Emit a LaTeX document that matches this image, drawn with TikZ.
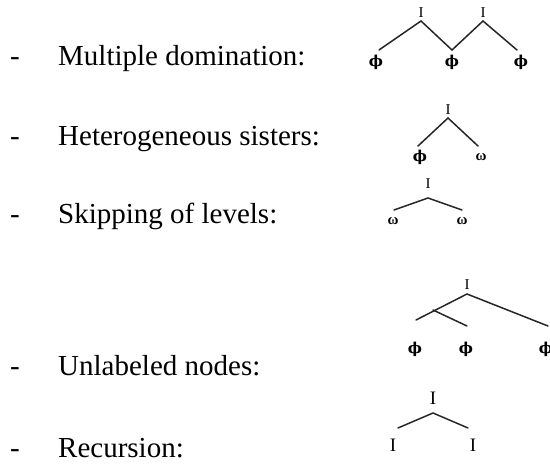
\documentclass[tikz,border=0pt]{standalone}
\usepackage{fontspec}
\setmainfont{Liberation Serif}
\newfontfamily\phifont{DejaVu Serif}
\begin{document}
\begin{tikzpicture}[x=1pt,y=-1pt,
  item/.style={anchor=base west,inner sep=0pt,font=\fontsize{29}{34}\selectfont},
  dashmark/.style={anchor=base,inner sep=0pt,font=\fontsize{29}{34}\selectfont},
  lab/.style={inner sep=0pt,font=\fontsize{15}{17}\selectfont},
  greek/.style={inner sep=0pt,font=\fontsize{15}{17}\selectfont\bfseries},
  labbig/.style={inner sep=0pt,font=\fontsize{19}{22}\selectfont},
  edge/.style={line width=1.5pt,line cap=round,black!85}]
\useasboundingbox (0,0) rectangle (550,465);
% left column
\foreach \n/\y/\t in {a/66/Multiple domination:,b/146/Heterogeneous sisters:,c/224/Skipping of levels:,d/376/Unlabeled nodes:,e/458/Recursion:}{
  \node[dashmark] (dash\n) at (15,\y) {-};
  \node[item] (txt\n) at (58,\y) {\t};
}
% tree 1: multiple domination
\node[lab] (t1I1) at (421,13) {I};
\node[lab] (t1I2) at (483,13) {I};
\coordinate (t1a1) at (421,21);
\coordinate (t1a2) at (483,21);
\coordinate (t1e1) at (379,50);
\coordinate (t1e2) at (452,50);
\coordinate (t1e3) at (517,50);
\node[greek] (t1p1) at (376,62) {\phifont ϕ};
\node[greek] (t1p2) at (452,62) {\phifont ϕ};
\node[greek] (t1p3) at (521,62) {\phifont ϕ};
\draw[edge] (t1e1) -- (t1a1) -- (t1e2) -- (t1a2) -- (t1e3);
% tree 2: heterogeneous sisters
\node[lab] (t2I) at (448,110) {I};
\coordinate (t2a) at (448,118);
\coordinate (t2e1) at (418,146);
\coordinate (t2e2) at (478,146);
\node[greek] (t2p) at (420,157) {\phifont ϕ};
\node[greek] (t2w) at (481,157) {ω};
\draw[edge] (t2e1) -- (t2a) -- (t2e2);
% tree 3: skipping of levels
\node[lab] (t3I) at (428,184) {I};
\coordinate (t3a) at (428,198);
\coordinate (t3e1) at (394,210);
\coordinate (t3e2) at (462,210);
\node[greek] (t3w1) at (393,221) {ω};
\node[greek] (t3w2) at (462,221) {ω};
\draw[edge] (t3e1) -- (t3a) -- (t3e2);
% tree 4: unlabeled nodes
\node[lab] (t4I) at (467,285) {I};
\coordinate (t4a) at (467,294);
\coordinate (t4e1) at (416,320);
\coordinate (t4m) at (433,310);
\coordinate (t4e2) at (467,326);
\coordinate (t4e3) at (548,326);
\node[greek] (t4p1) at (415,349) {\phifont ϕ};
\node[greek] (t4p2) at (466,349) {\phifont ϕ};
\node[greek] (t4p3) at (546,349) {\phifont ϕ};
\draw[edge] (t4e1) -- (t4a) -- (t4e3);
\draw[edge] (t4m) -- (t4e2);
% tree 5: recursion
\node[labbig] (t5I) at (433,398) {I};
\coordinate (t5a) at (433,413);
\coordinate (t5e1) at (398,428);
\coordinate (t5e2) at (468,428);
\node[labbig] (t5I1) at (393,445) {I};
\node[labbig] (t5I2) at (473,445) {I};
\draw[edge] (t5e1) -- (t5a) -- (t5e2);
\end{tikzpicture}
\end{document}
